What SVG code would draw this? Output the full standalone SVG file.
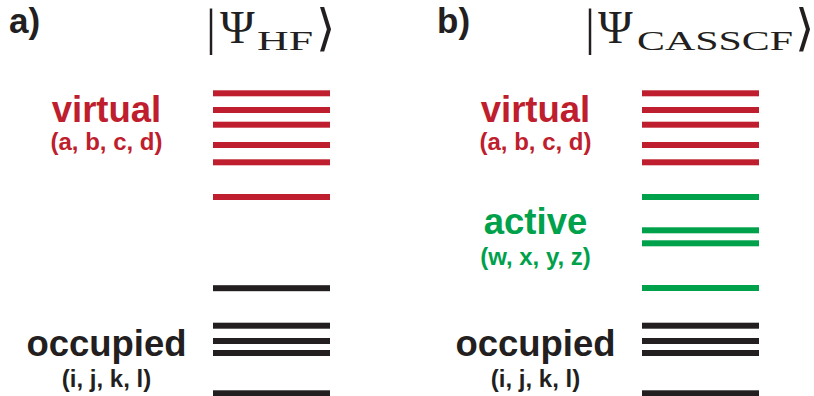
<svg xmlns="http://www.w3.org/2000/svg" width="814" height="396" viewBox="0 0 814 396">
<style>
.lbl{font-family:"Liberation Sans",Arial,sans-serif;font-weight:bold;text-anchor:middle}
.big{font-size:36.5px}
.small{font-size:24px}
.panel{font-family:"Liberation Sans",Arial,sans-serif;font-weight:bold;font-size:35px;fill:#231f20}
.math{font-family:"Liberation Serif","Times New Roman",serif;fill:#231f20}
.red{fill:#be1e2d}
.green{fill:#00a14b}
.black{fill:#231f20}
</style>
<rect width="814" height="396" fill="#ffffff"/>

<g id="panel-a-title">
  <text class="panel" x="9" y="33">a)</text>
  <text class="math" x="206" y="44" font-size="50">|</text>
  <text class="math" x="220" y="43" font-size="47">Ψ</text>
  <text class="math" x="257" y="50" font-size="27" textLength="56" lengthAdjust="spacingAndGlyphs">HF</text>
  <text x="316" y="45" font-family="DejaVu Sans, sans-serif" font-size="50" fill="#231f20">⟩</text>
</g>

<g id="panel-b-title">
  <text class="panel" x="437" y="33">b)</text>
  <text class="math" x="585" y="44" font-size="50">|</text>
  <text class="math" x="598" y="43" font-size="47">Ψ</text>
  <text class="math" x="637" y="50" font-size="27" textLength="156" lengthAdjust="spacingAndGlyphs">CASSCF</text>
  <text x="795" y="45" font-family="DejaVu Sans, sans-serif" font-size="50" fill="#231f20">⟩</text>
</g>

<g id="a-virtual-label">
  <text class="lbl big red" x="106.5" y="121.5">virtual</text>
  <text class="lbl small red" x="106.5" y="150">(a, b, c, d)</text>
</g>
<g id="a-occupied-label">
  <text class="lbl big black" x="106.5" y="356">occupied</text>
  <text class="lbl small black" x="106.5" y="387">(i, j, k, l)</text>
</g>

<g id="b-virtual-label">
  <text class="lbl big red" x="535.5" y="121.5">virtual</text>
  <text class="lbl small red" x="535.5" y="150">(a, b, c, d)</text>
</g>
<g id="b-active-label">
  <text class="lbl big green" x="535.5" y="233.5">active</text>
  <text class="lbl small green" x="535.5" y="264.5">(w, x, y, z)</text>
</g>
<g id="b-occupied-label">
  <text class="lbl big black" x="535.5" y="356">occupied</text>
  <text class="lbl small black" x="535.5" y="387">(i, j, k, l)</text>
</g>

<g id="a-levels">
  <g class="red">
    <rect x="213" y="90.3" width="117" height="6"/>
    <rect x="213" y="107" width="117" height="6"/>
    <rect x="213" y="121.7" width="117" height="6"/>
    <rect x="213" y="142" width="117" height="6"/>
    <rect x="213" y="159.3" width="117" height="6"/>
    <rect x="213" y="194" width="117" height="6"/>
  </g>
  <g class="black">
    <rect x="213" y="285.2" width="117" height="6"/>
    <rect x="213" y="322.7" width="117" height="6"/>
    <rect x="213" y="338" width="117" height="6"/>
    <rect x="213" y="350" width="117" height="6"/>
    <rect x="213" y="390.3" width="117" height="6"/>
  </g>
</g>

<g id="b-levels">
  <g class="red">
    <rect x="642" y="90.3" width="117" height="6"/>
    <rect x="642" y="107" width="117" height="6"/>
    <rect x="642" y="121.7" width="117" height="6"/>
    <rect x="642" y="142" width="117" height="6"/>
    <rect x="642" y="159.3" width="117" height="6"/>
  </g>
  <g class="green">
    <rect x="642" y="194" width="117" height="6"/>
    <rect x="642" y="227.3" width="117" height="6"/>
    <rect x="642" y="240.3" width="117" height="6"/>
    <rect x="642" y="285" width="117" height="6"/>
  </g>
  <g class="black">
    <rect x="642" y="322.7" width="117" height="6"/>
    <rect x="642" y="338" width="117" height="6"/>
    <rect x="642" y="350" width="117" height="6"/>
    <rect x="642" y="390.3" width="117" height="6"/>
  </g>
</g>

<g id="connectors"></g>
</svg>
